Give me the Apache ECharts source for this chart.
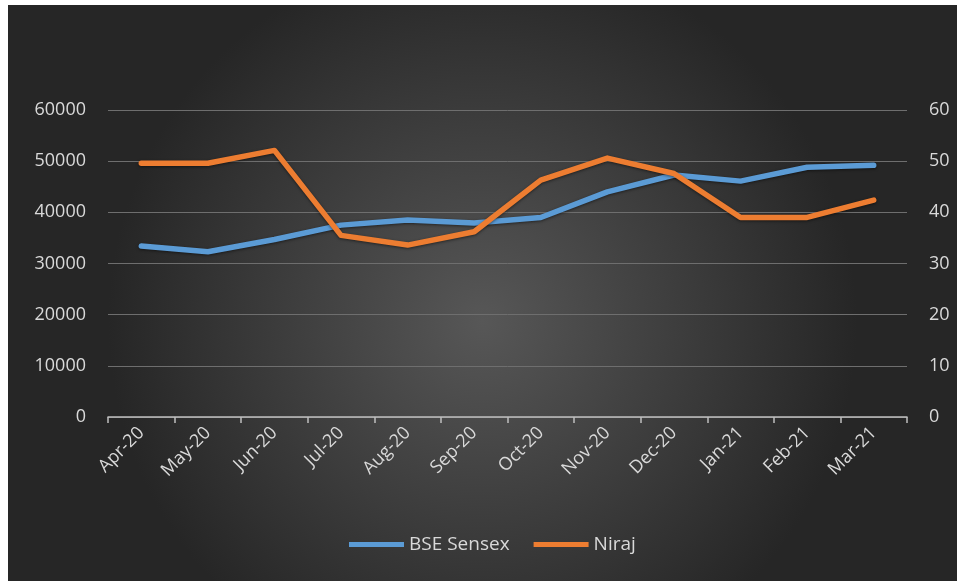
<!DOCTYPE html>
<html>
<head>
<meta charset="utf-8">
<script src="https://cdn.jsdelivr.net/npm/echarts@6/dist/echarts.min.js"></script>
<style>
html,body{margin:0;padding:0;background:#fff;}
#chart{width:957px;height:581px;}
</style>
</head>
<body>
<div id="chart"></div>
<script>
const categories = ['Apr-20','May-20','Jun-20','Jul-20','Aug-20','Sep-20','Oct-20','Nov-20','Dec-20','Jan-21','Feb-21','Mar-21'];
const bseSensex = [33400, 32300, 34700, 37500, 38500, 37900, 39000, 44000, 47300, 46100, 48800, 49200];
const niraj = [49.6, 49.6, 52.1, 35.5, 33.6, 36.2, 46.3, 50.6, 47.6, 39.0, 39.0, 42.4];
const leftTicks = {min: 0, max: 60000, interval: 10000};
const rightTicks = {min: 0, max: 60, interval: 10};

const chart = echarts.init(document.getElementById('chart'), null, {renderer: 'canvas'});
const txt = '#d9d9d9';
const font = 'Open Sans';
chart.setOption({
  backgroundColor: '#ffffff',
  animation: false,
  graphic: [{
    type: 'rect', z: -10, silent: true,
    shape: {x: 8, y: 5, width: 949, height: 576},
    style: {
      fill: new echarts.graphic.RadialGradient(0.5, 0.55, 0.65, [
        {offset: 0, color: '#575757'},
        {offset: 1, color: '#262626'}
      ])
    }
  }],
  grid: {left: 108, right: 50, top: 110, bottom: 164},
  legend: {
    bottom: 22, left: 344,
    itemWidth: 55, itemHeight: 5, itemGap: 24,
    icon: 'rect',
    textStyle: {color: txt, fontFamily: font, fontSize: 19},
    data: ['BSE Sensex', 'Niraj']
  },
  xAxis: {
    type: 'category', data: categories, boundaryGap: true,
    axisLine: {show: true, lineStyle: {color: '#bfbfbf', width: 1.5}},
    axisTick: {show: true, alignWithLabel: false, length: 6, lineStyle: {color: '#bfbfbf', width: 1.5}},
    axisLabel: {rotate: 45, color: txt, fontFamily: font, fontSize: 18, margin: 13, interval: 0},
    splitLine: {show: false}
  },
  yAxis: [{
    type: 'value', min: leftTicks.min, max: leftTicks.max, interval: leftTicks.interval,
    axisLine: {show: false}, axisTick: {show: false},
    axisLabel: {color: txt, fontFamily: font, fontSize: 18, margin: 22, formatter: v => String(v)},
    splitLine: {show: true, lineStyle: {color: '#6e6e6e', width: 1}}
  }, {
    type: 'value', min: rightTicks.min, max: rightTicks.max, interval: rightTicks.interval,
    axisLine: {show: false}, axisTick: {show: false},
    axisLabel: {color: txt, fontFamily: font, fontSize: 18, margin: 22, formatter: v => String(v)},
    splitLine: {show: false}
  }],
  series: [{
    name: 'BSE Sensex', type: 'line', yAxisIndex: 0, data: bseSensex,
    showSymbol: false, symbol: 'none', color: '#5b9bd5',
    lineStyle: {width: 5.5, color: '#5b9bd5', cap: 'round', join: 'round',
      shadowColor: 'rgba(0,0,0,0.5)', shadowBlur: 3, shadowOffsetY: 1}
  }, {
    name: 'Niraj', type: 'line', yAxisIndex: 1, data: niraj,
    showSymbol: false, symbol: 'none', color: '#ed7d31',
    lineStyle: {width: 5.5, color: '#ed7d31', cap: 'round', join: 'round',
      shadowColor: 'rgba(0,0,0,0.5)', shadowBlur: 3, shadowOffsetY: 1}
  }]
});
</script>
</body>
</html>
